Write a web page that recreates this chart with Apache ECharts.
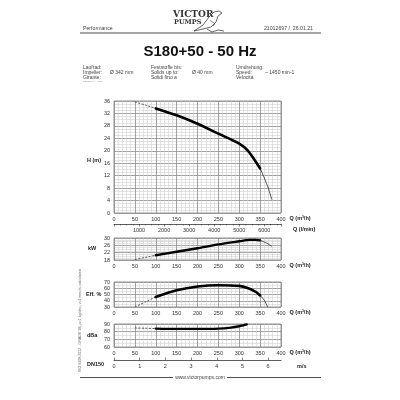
<!DOCTYPE html>
<html lang="en">
<head>
<meta charset="utf-8">
<title>S180+50 - 50 Hz</title>
<script src="https://cdn.jsdelivr.net/npm/echarts@6/dist/echarts.min.js"></script>
<style>
  html, body { margin: 0; padding: 0; background: #fff; }
  #chart { width: 400px; height: 400px; }
</style>
</head>
<body>
<div id="chart"></div>
<script>
// head curve H (m)
var qH = [50, 75, 100, 150, 200, 250, 300, 320, 340, 350, 360, 370, 378];
var vH = [35.7, 34.7, 33.6, 31.4, 28.7, 25.5, 22.3, 20.1, 16.4, 14.3, 11.3, 7.8, 4.3];
// power kW
var qP = [50, 75, 100, 150, 200, 250, 300, 325, 340, 350, 365, 378];
var vP = [18.2, 19.4, 20.6, 22.5, 24.4, 26.5, 28.2, 29.0, 29.0, 28.7, 27.3, 25.4];
// efficiency %
var qE = [50, 75, 100, 150, 200, 250, 300, 320, 340, 350, 360, 368];
var vE = [30, 38, 46, 56.7, 62.8, 64.9, 63.8, 60.3, 54, 48.5, 40.8, 30];
// noise dBa
var qN = [50, 75, 100, 150, 200, 250, 280, 300, 310, 318];
var vN = [84.9, 84.5, 84, 83.6, 83.6, 84, 85.3, 87, 88.3, 89.5];

var hTicks = [0, 36, 4];
var pTicks = [18, 30, 4];
var eTicks = [30, 70, 10];
var nTicks = [60, 90, 10];

var chart = echarts.init(document.getElementById('chart'));

var L = 114, W = 167;
var lblFont = {fontSize: 5.5, color: '#333', fontFamily: 'Liberation Sans'};
var majorLine = {lineStyle: {color: '#8c8c8c', width: 0.8}};
var minorLine = {lineStyle: {color: '#c8c8c8', width: 0.5}};

function qAxis(gi, showName) {
    return {
        type: 'value', gridIndex: gi, min: 0, max: 400, interval: 50,
        axisLine: {show: false}, axisTick: {show: false},
        axisLabel: Object.assign({margin: 3}, lblFont),
        splitLine: majorLine,
        minorTick: {show: false, splitNumber: 5},
        minorSplitLine: Object.assign({show: true}, minorLine),
        name: showName ? 'Q (m³/h)' : '', nameLocation: 'end', nameGap: 8,
        nameTextStyle: {fontSize: 5.5, fontWeight: 'bold', color: '#222', verticalAlign: 'top', padding: [2, 0, 0, 0]}
    };
}

function valAxis(gi, t, minor) {
    return {
        type: 'value', gridIndex: gi, min: t[0], max: t[1], interval: t[2],
        axisLine: {show: false}, axisTick: {show: false},
        axisLabel: Object.assign({margin: 4}, lblFont),
        splitLine: majorLine,
        minorTick: {show: false, splitNumber: minor},
        minorSplitLine: Object.assign({show: true}, minorLine)
    };
}

function pairs(q, v, test) {
    var out = [];
    for (var i = 0; i < q.length; i++) {
        if (test(q[i])) out.push([q[i], v[i]]);
    }
    return out;
}

function curve(q, v, gi, lo, hi, w) {
    var base = {type: 'line', xAxisIndex: gi, yAxisIndex: gi, showSymbol: false, silent: true,
        animation: false, color: '#000', smooth: 0.25};
    return [
        Object.assign({}, base, {data: pairs(q, v, function (x) { return x <= lo; }),
            lineStyle: {color: '#333', width: 0.8, type: [2, 1.5]}}),
        Object.assign({}, base, {data: pairs(q, v, function (x) { return x >= lo && x <= hi; }),
            lineStyle: {color: '#000', width: w, cap: 'round', join: 'round'}}),
        Object.assign({}, base, {data: pairs(q, v, function (x) { return x >= hi; }),
            lineStyle: {color: '#222', width: 0.8}})
    ];
}

var grids = [
    {left: L, width: W, top: 101, height: 112},
    {left: L, width: W, top: 238, height: 22},
    {left: L, width: W, top: 282, height: 25},
    {left: L, width: W, top: 324, height: 23}
].map(function (g) {
    return Object.assign({show: true, borderColor: '#7a7a7a', borderWidth: 0.8}, g);
});

var xAxes = [qAxis(0, true), qAxis(1, true), qAxis(2, true), qAxis(3, true)];
// Q (l/min) scale under the head chart
xAxes.push({
    type: 'value', gridIndex: 0, position: 'bottom', offset: 11,
    min: 0, max: 400 * 1000 / 60, interval: 1000,
    axisLine: {show: true, onZero: false, lineStyle: {color: '#333', width: 0.8}},
    axisTick: {show: true, length: 2.5, lineStyle: {color: '#333', width: 0.6}},
    minorTick: {show: true, splitNumber: 4, length: 1.5, lineStyle: {color: '#333', width: 0.5}},
    axisLabel: Object.assign({margin: 3, formatter: function (v) { return v === 0 ? '' : v; }}, lblFont),
    splitLine: {show: false},
    name: 'Q (l/min)', nameLocation: 'end', nameGap: 12,
    nameTextStyle: {fontSize: 5.5, fontWeight: 'bold', color: '#222', verticalAlign: 'top', padding: [2, 0, 0, 0]}
});
// DN150 velocity scale
xAxes.push({
    type: 'value', gridIndex: 3, position: 'bottom', offset: 13,
    min: 0, max: 6.5, interval: 1,
    axisLine: {show: true, onZero: false, lineStyle: {color: '#333', width: 0.8}},
    axisTick: {show: true, inside: true, length: 2.5, lineStyle: {color: '#333', width: 0.6}},
    minorTick: {show: false},
    axisLabel: Object.assign({margin: 3, showMaxLabel: false,
        formatter: function (v) { return v % 1 === 0 ? v : ''; }}, lblFont),
    splitLine: {show: false},
    name: 'm/s', nameLocation: 'end', nameGap: 16,
    nameTextStyle: {fontSize: 5.5, fontWeight: 'bold', color: '#222', verticalAlign: 'top', padding: [3, 0, 0, 0]}
});

var yAxes = [valAxis(0, hTicks, 4), valAxis(1, pTicks, 4), valAxis(2, eTicks, 2), valAxis(3, nTicks, 2)];

var series = [].concat(
    curve(qH, vH, 0, 100, 350, 2.6),
    curve(qP, vP, 1, 100, 350, 2.4),
    curve(qE, vE, 2, 100, 350, 2.6),
    curve(qN, vN, 3, 100, 318, 2.4)
);

function txt(x, y, s, o) {
    return {type: 'text', left: x, top: y, silent: true,
        style: Object.assign({text: s, fontSize: 5, fill: '#444', fontFamily: 'Liberation Sans'}, o || {})};
}

var graphics = [
    // header
    txt(83, 26, 'Performance', {fontSize: 5.2}),
    {type: 'text', right: 87, top: 26, style: {text: '21012697 /  26.01.21', fontSize: 5.2, fill: '#444', fontFamily: 'Liberation Sans'}},
    {type: 'line', shape: {x1: 80, y1: 33, x2: 321, y2: 33}, style: {stroke: '#222', lineWidth: 0.8}},
    // logo
    txt(173, 10, 'VICTOR', {fontSize: 9, fontWeight: 'bold', fill: '#333', fontFamily: 'DejaVu Serif'}),
    txt(174, 18.5, 'PUMPS', {fontSize: 6.5, fontWeight: 'bold', fill: '#333', fontFamily: 'DejaVu Serif'}),
    {type: 'polyline', silent: true, shape: {points: [[194, 31], [203, 25], [209, 17], [214, 12], [219, 11], [222, 13], [218, 16], [216, 22], [211, 27], [203, 29], [194, 31]]},
        style: {fill: 'none', stroke: '#444', lineWidth: 0.8}},
    {type: 'polyline', silent: true, shape: {points: [[207, 29], [212, 32], [218, 30], [224, 31]]},
        style: {fill: 'none', stroke: '#444', lineWidth: 0.8}},
    {type: 'polyline', silent: true, shape: {points: [[210, 20], [215, 24], [213, 26]]},
        style: {fill: 'none', stroke: '#444', lineWidth: 0.6}},
    // title
    {type: 'text', left: 'center', top: 44, style: {text: 'S180+50 - 50 Hz', fontSize: 15, fontWeight: 'bold', fill: '#111', fontFamily: 'Liberation Sans', x: 2}},
    // info
    txt(83, 65, 'Laufrad:'), txt(83, 70, 'Impeller:'), txt(83, 75, 'Girante:'),
    txt(110, 70, 'Ø 342 mm'),
    txt(83, 80, 'P50850-xx - xx/xx', {fontSize: 2.5, fill: '#888'}),
    txt(151, 65, 'Feststoffe bis:'), txt(151, 70, 'Solids up to:'), txt(151, 75, 'Solidi fino a'),
    txt(192, 70, 'Ø 40 mm'),
    txt(236, 65, 'Umdrehung:'), txt(236, 70, 'Speed:'), txt(236, 75, 'Velocità'),
    txt(265, 70, '~ 1450 min-1'),
    // axis titles
    txt(87, 157, 'H (m)', {fontSize: 5.5, fontWeight: 'bold', fill: '#222'}),
    txt(88, 245, 'kW', {fontSize: 5.5, fontWeight: 'bold', fill: '#222'}),
    txt(86, 291, 'Eff. %', {fontSize: 5.5, fontWeight: 'bold', fill: '#222'}),
    txt(87, 332, 'dBa', {fontSize: 5.5, fontWeight: 'bold', fill: '#222'}),
    txt(87, 361, 'DN150', {fontSize: 5.5, fontWeight: 'bold', fill: '#222'}),
    // side note
    {type: 'text', silent: true, x: 80, y: 372, rotation: Math.PI / 2,
        style: {text: 'ISO 9906:2012 - GRADE 3B, ρ=1 kg/dm³, ν=1 mm²/s, calculated', fontSize: 3.6, fill: '#666', fontFamily: 'Liberation Sans', verticalAlign: 'middle'}},
    // footer
    {type: 'line', shape: {x1: 80, y1: 377.5, x2: 173, y2: 377.5}, style: {stroke: '#222', lineWidth: 0.8}},
    {type: 'line', shape: {x1: 227, y1: 377.5, x2: 321, y2: 377.5}, style: {stroke: '#222', lineWidth: 0.8}},
    {type: 'text', left: 'center', top: 375, style: {text: 'www.victorpumps.com', fontSize: 5, fill: '#444', fontFamily: 'Liberation Sans'}}
];

chart.setOption({
    animation: false,
    grid: grids,
    xAxis: xAxes,
    yAxis: yAxes,
    series: series,
    graphic: graphics
});
</script>
</body>
</html>
